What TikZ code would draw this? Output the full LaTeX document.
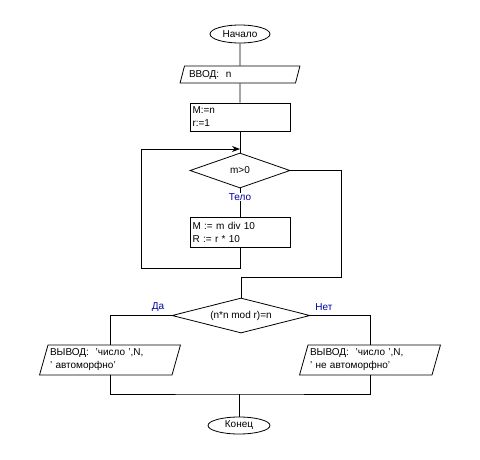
\documentclass[tikz,border=0pt]{standalone}
\usepackage{fontspec}
\setmainfont{Liberation Sans}
\usetikzlibrary{shapes.geometric,arrows.meta}
\definecolor{labelblue}{RGB}{0,0,160}

\begin{document}
\begin{tikzpicture}
[
x=1pt, y=-1pt,
line width=0.8pt,
every node/.style={draw, font=\fontsize{10}{13}\selectfont, inner sep=2pt},
terminal/.style={ellipse, minimum width=60pt, minimum height=18pt, inner sep=0pt},
io/.style={trapezium, trapezium left angle=72, trapezium right angle=108, trapezium stretches=true, align=left},
action/.style={rectangle, minimum width=100pt, minimum height=28pt, text width=95pt, align=left},
decision/.style={diamond, aspect=3.5, inner sep=0pt},
branch/.style={draw=none, text=labelblue, fill=white, inner sep=1pt},
flow/.style={-{Stealth[length=8pt,width=6pt]}}
]
\useasboundingbox (0,0) rectangle (480,459);

\node[terminal] (start) at (240,34) {Начало};
\node[io, minimum width=120pt, minimum height=17pt, text width=102pt] (input) at (240,74.5) {ВВОД:\ \ n};
\node[action, minimum height=28pt] (init) at (240,117) {M:=n\\r:=1};
\node[decision, minimum width=100pt, minimum height=35pt] (cond) at (240,170.5) {m>0};
\node[action, minimum height=30pt] (body) at (240,232) {M := m div 10\\R := r * 10};
\node[decision, minimum width=138pt, minimum height=35pt] (check) at (241,315.5) {(n*n mod r)=n};
\node[io, minimum width=139pt, minimum height=30pt, text width=120pt] (yes) at (110,360) {ВЫВОД:\ \ 'число ',N,\\' автоморфно'};
\node[io, minimum width=139pt, minimum height=30pt, text width=120pt] (no) at (370,360) {ВЫВОД:\ \ 'число ',N,\\' не автоморфно'};
\node[terminal, minimum width=62pt, minimum height=17pt] (stop) at (239,425.5) {Конец};

\coordinate (loopin) at (240,149);
\coordinate (merge) at (239,394);

\draw (start) -- (input);
\draw (input) -- (init);
\draw (init) -- (cond);
\draw (cond) -- (body);
\node[branch] (bodylabel) at (240,197) {Тело};
\draw[flow] (body.south) -- ++(0,21) -| (141,149) -- (loopin);
\draw (cond.east) -| (341,277) -| (check.north);
\draw (check.west) -| (yes.north);
\draw (check.east) -| (no.north);
\node[branch, fill=none] (yeslabel) at (158,307) {Да};
\node[branch, fill=none] (nolabel) at (324,307) {Нет};
\draw (yes.south) |- (merge) -| (no.south);
\draw (merge) -- (stop);
\end{tikzpicture}
\end{document}
